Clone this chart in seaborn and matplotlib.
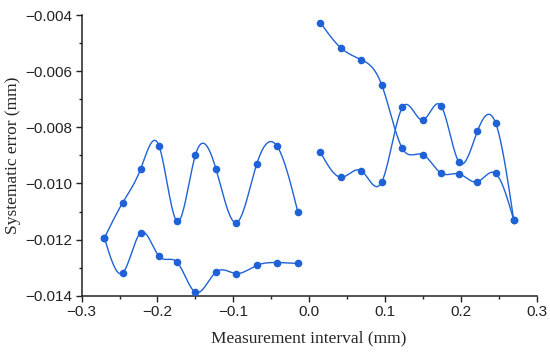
import numpy as np
import pandas as pd
import matplotlib
matplotlib.use("Agg")
import matplotlib.pyplot as plt
from matplotlib.ticker import MultipleLocator
import seaborn as sns

# Data
x_left = [-0.270, -0.246, -0.222, -0.198, -0.174, -0.150, -0.123, -0.096, -0.069, -0.042, -0.015]
left_upper = [-0.01194, -0.01069, -0.00947, -0.00866, -0.01135, -0.00899, -0.00947, -0.01140, -0.00930, -0.00868, -0.01100]
left_lower = [-0.01194, -0.01319, -0.01175, -0.01259, -0.01281, -0.01388, -0.01316, -0.01321, -0.01292, -0.01282, -0.01285]

x_right = [0.015, 0.042, 0.069, 0.096, 0.123, 0.150, 0.174, 0.198, 0.222, 0.246, 0.270]
right_a = [-0.00427, -0.00517, -0.00559, -0.00650, -0.00875, -0.00897, -0.00963, -0.00966, -0.00994, -0.00964, -0.01131]
right_b = [-0.00889, -0.00978, -0.00955, -0.00994, -0.00729, -0.00774, -0.00723, -0.00925, -0.00814, -0.00784, -0.01131]

color = "#1f62d6"


def natural_spline(x, y, n=400):
    """Natural cubic spline through the points (curve drawing only)."""
    x = np.asarray(x, float)
    y = np.asarray(y, float)
    m = len(x)
    h = np.diff(x)
    A = np.zeros((m, m))
    r = np.zeros(m)
    A[0, 0] = A[-1, -1] = 1
    for i in range(1, m - 1):
        A[i, i - 1] = h[i - 1]
        A[i, i] = 2 * (h[i - 1] + h[i])
        A[i, i + 1] = h[i]
        r[i] = 6 * ((y[i + 1] - y[i]) / h[i] - (y[i] - y[i - 1]) / h[i - 1])
    M = np.linalg.solve(A, r)
    xs = np.linspace(x[0], x[-1], n)
    idx = np.clip(np.searchsorted(x, xs) - 1, 0, m - 2)
    x0, x1 = x[idx], x[idx + 1]
    hh = x1 - x0
    a = (x1 - xs) / hh
    b = (xs - x0) / hh
    ys = a * y[idx] + b * y[idx + 1] + ((a ** 3 - a) * M[idx] + (b ** 3 - b) * M[idx + 1]) * hh ** 2 / 6
    return xs, ys


sns.set_theme(style="ticks")
plt.rcParams["font.family"] = ["Liberation Sans", "DejaVu Sans"]
plt.rcParams["axes.unicode_minus"] = True

fig = plt.figure(figsize=(5.5, 3.52), dpi=100)
ax = fig.add_axes([0.1485, 0.16, 0.827, 0.797])

series = [(x_left, left_upper), (x_left, left_lower), (x_right, right_a), (x_right, right_b)]
for xs, ys in series:
    cx, cy = natural_spline(xs, ys)
    sns.lineplot(x=cx, y=cy, ax=ax, color=color, linewidth=1.0, sort=False)
    df = pd.DataFrame({"x": xs, "y": ys})
    sns.scatterplot(data=df, x="x", y="y", ax=ax, color=color, s=30, edgecolor=color, linewidth=0, zorder=3)

ax.set_xlim(-0.3, 0.3)
ax.set_ylim(-0.014, -0.004)
ax.xaxis.set_major_locator(MultipleLocator(0.1))
ax.xaxis.set_minor_locator(MultipleLocator(0.05))
ax.yaxis.set_major_locator(MultipleLocator(0.002))
ax.yaxis.set_minor_locator(MultipleLocator(0.001))
ax.xaxis.set_major_formatter(matplotlib.ticker.FuncFormatter(lambda v, p: f"{v:.1f}".replace("-", "\u2212")))
ax.yaxis.set_major_formatter(matplotlib.ticker.FuncFormatter(lambda v, p: f"{v:.3f}".replace("-", "\u2212")))

ax.tick_params(which="major", direction="out", length=4, width=1, colors="#222222", labelsize=11, pad=3)
ax.tick_params(which="minor", direction="out", length=2, width=1, colors="#222222")
for s in ["left", "bottom"]:
    ax.spines[s].set_linewidth(1.1)
    ax.spines[s].set_color("#222222")
sns.despine(ax=ax)

ax.set_xlabel("Measurement interval (mm)", fontsize=12.5, family=["Liberation Serif"], labelpad=8)
ax.set_ylabel("Systematic error (mm)", fontsize=12.5, family=["Liberation Serif"], labelpad=3)

fig.savefig("out.png", dpi=100)
